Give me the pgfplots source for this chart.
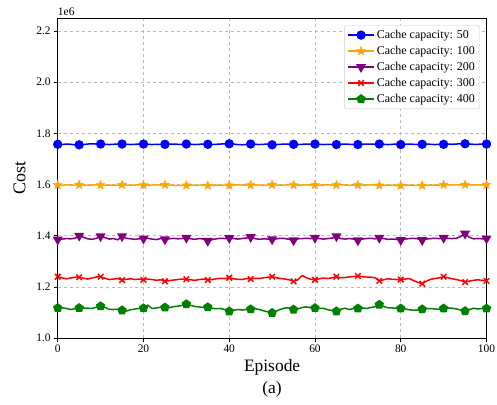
\documentclass[border=0pt]{standalone}
\usepackage{pgfplots}
\pgfplotsset{compat=1.18}
\usepackage{pgfplotstable}
\usepackage{fontspec}
\setmainfont{Liberation Serif}
\pgfdeclareplotmark{fstar}{%
  \pgfpathmoveto{\pgfqpointpolar{90}{\pgfplotmarksize}}%
  \pgfpathlineto{\pgfqpointpolar{126}{0.42\pgfplotmarksize}}%
  \pgfpathlineto{\pgfqpointpolar{162}{\pgfplotmarksize}}%
  \pgfpathlineto{\pgfqpointpolar{198}{0.42\pgfplotmarksize}}%
  \pgfpathlineto{\pgfqpointpolar{234}{\pgfplotmarksize}}%
  \pgfpathlineto{\pgfqpointpolar{270}{0.42\pgfplotmarksize}}%
  \pgfpathlineto{\pgfqpointpolar{306}{\pgfplotmarksize}}%
  \pgfpathlineto{\pgfqpointpolar{342}{0.42\pgfplotmarksize}}%
  \pgfpathlineto{\pgfqpointpolar{18}{\pgfplotmarksize}}%
  \pgfpathlineto{\pgfqpointpolar{54}{0.42\pgfplotmarksize}}%
  \pgfpathclose\pgfusepathqfillstroke}
\definecolor{mplorange}{RGB}{255,165,0}
\definecolor{mplpurple}{RGB}{128,0,128}
\definecolor{mplgreen}{RGB}{0,128,0}
\pgfplotstableread{
ep b o p r g
0 1.757 1.598 1.385 1.240 1.118
1 1.756 1.597 1.387 1.236 1.119
2 1.758 1.599 1.389 1.232 1.116
3 1.757 1.598 1.388 1.235 1.112
4 1.755 1.597 1.390 1.238 1.115
5 1.755 1.599 1.400 1.238 1.118
6 1.756 1.598 1.394 1.234 1.118
7 1.758 1.597 1.388 1.231 1.117
8 1.759 1.598 1.386 1.235 1.116
9 1.758 1.599 1.390 1.239 1.121
10 1.758 1.598 1.398 1.240 1.125
11 1.757 1.597 1.393 1.234 1.120
12 1.756 1.598 1.387 1.229 1.113
13 1.757 1.598 1.389 1.231 1.112
14 1.758 1.597 1.384 1.233 1.113
15 1.758 1.599 1.398 1.227 1.109
16 1.757 1.598 1.390 1.230 1.106
17 1.756 1.597 1.388 1.232 1.111
18 1.757 1.598 1.386 1.229 1.114
19 1.758 1.599 1.388 1.231 1.116
20 1.758 1.598 1.389 1.228 1.117
21 1.757 1.597 1.390 1.231 1.129
22 1.756 1.598 1.387 1.229 1.116
23 1.757 1.599 1.385 1.226 1.118
24 1.757 1.598 1.389 1.228 1.121
25 1.757 1.599 1.386 1.222 1.120
26 1.758 1.598 1.388 1.225 1.119
27 1.758 1.597 1.390 1.227 1.123
28 1.757 1.597 1.388 1.229 1.125
29 1.756 1.597 1.389 1.231 1.128
30 1.758 1.597 1.392 1.230 1.133
31 1.757 1.598 1.388 1.228 1.128
32 1.756 1.597 1.386 1.226 1.124
33 1.757 1.597 1.389 1.229 1.122
34 1.758 1.598 1.387 1.231 1.120
35 1.757 1.596 1.380 1.227 1.121
36 1.756 1.597 1.385 1.229 1.117
37 1.757 1.598 1.388 1.232 1.115
38 1.758 1.598 1.390 1.234 1.116
39 1.759 1.597 1.389 1.233 1.112
40 1.759 1.597 1.391 1.236 1.105
41 1.758 1.598 1.389 1.232 1.109
42 1.756 1.599 1.387 1.230 1.112
43 1.755 1.598 1.389 1.229 1.110
44 1.756 1.598 1.391 1.233 1.112
45 1.758 1.598 1.395 1.231 1.113
46 1.757 1.599 1.389 1.234 1.115
47 1.756 1.598 1.386 1.233 1.112
48 1.757 1.597 1.388 1.236 1.107
49 1.758 1.598 1.387 1.238 1.103
50 1.755 1.599 1.386 1.240 1.099
51 1.756 1.598 1.388 1.236 1.106
52 1.757 1.597 1.390 1.233 1.113
53 1.758 1.598 1.389 1.231 1.118
54 1.757 1.599 1.386 1.228 1.119
55 1.757 1.598 1.382 1.222 1.112
56 1.756 1.597 1.388 1.228 1.114
57 1.757 1.598 1.389 1.245 1.120
58 1.758 1.599 1.390 1.236 1.122
59 1.757 1.598 1.389 1.230 1.119
60 1.758 1.598 1.392 1.228 1.118
61 1.757 1.597 1.389 1.232 1.116
62 1.756 1.598 1.387 1.235 1.117
63 1.757 1.599 1.389 1.233 1.111
64 1.756 1.598 1.391 1.236 1.108
65 1.756 1.598 1.398 1.240 1.105
66 1.757 1.599 1.389 1.236 1.113
67 1.758 1.598 1.387 1.237 1.117
68 1.757 1.597 1.389 1.239 1.112
69 1.756 1.598 1.387 1.241 1.116
70 1.756 1.598 1.382 1.243 1.116
71 1.757 1.597 1.387 1.240 1.118
72 1.758 1.598 1.389 1.239 1.116
73 1.758 1.599 1.390 1.238 1.120
74 1.757 1.598 1.388 1.236 1.123
75 1.758 1.597 1.392 1.224 1.131
76 1.757 1.597 1.389 1.228 1.124
77 1.756 1.598 1.386 1.232 1.119
78 1.757 1.597 1.387 1.230 1.118
79 1.758 1.596 1.386 1.229 1.117
80 1.756 1.596 1.383 1.229 1.116
81 1.757 1.597 1.387 1.231 1.114
82 1.758 1.598 1.389 1.233 1.111
83 1.757 1.597 1.390 1.225 1.109
84 1.756 1.597 1.388 1.218 1.110
85 1.757 1.596 1.383 1.213 1.113
86 1.758 1.597 1.387 1.223 1.115
87 1.757 1.598 1.389 1.230 1.116
88 1.756 1.597 1.390 1.233 1.114
89 1.757 1.598 1.389 1.236 1.113
90 1.757 1.599 1.392 1.240 1.116
91 1.758 1.599 1.390 1.236 1.118
92 1.757 1.598 1.389 1.232 1.117
93 1.758 1.599 1.390 1.229 1.114
94 1.759 1.598 1.397 1.225 1.110
95 1.759 1.599 1.408 1.219 1.106
96 1.758 1.598 1.394 1.223 1.112
97 1.757 1.599 1.388 1.226 1.117
98 1.757 1.598 1.389 1.228 1.114
99 1.758 1.599 1.388 1.226 1.116
100 1.758 1.599 1.389 1.224 1.116
}\data
\begin{document}
\begin{tikzpicture}
\begin{axis}[
  width=428.5bp, height=320bp, scale only axis,
  xmin=0, xmax=100, ymin=1.0, ymax=2.25,
  xtick={0,20,40,60,80,100},
  ytick={1.0,1.2,1.4,1.6,1.8,2.0,2.2},
  yticklabel style={/pgf/number format/.cd, fixed, fixed zerofill, precision=1},
  /pgf/number format/assume math mode=true,
  ticklabel style={font=\fontsize{11.5}{13}\selectfont},
  tick align=outside, tick pos=left,
  major tick length=3.5bp,
  every tick/.style={black, line width=0.6pt},
  axis line style={line width=0.8pt},
  grid=major, grid style={dashed, gray!55, line width=0.6pt},
  xlabel={Episode},
  xlabel style={at={(axis description cs:0.5,0)}, anchor=base, yshift=-33bp,
    font=\fontsize{17.5}{20}\selectfont},
  ylabel={Cost},
  ylabel style={font=\fontsize{18}{20}\selectfont, yshift=4bp},
  legend style={at={(1,1)}, xshift=-6.5bp, yshift=-7bp, anchor=north east,
    draw=gray!40, rounded corners=2.5bp,
    font=\fontsize{12}{14}\selectfont, row sep=2.2bp, inner xsep=3bp, inner ysep=3bp},
  legend cell align=left,
  legend image code/.code={
    \draw[mark repeat=2,mark phase=2] plot coordinates {(0bp,0bp) (13bp,0bp) (26bp,0bp)};},
  mark repeat=5, mark phase=1,
  every axis plot/.append style={line width=1.5bp},
]
\addplot[blue, mark=*, mark size=3.9bp, mark options={solid}] table[x=ep,y=b]{\data};
\addlegendentry{Cache capacity: 50}
\addplot[mplorange, mark=fstar, mark size=4.6bp, mark options={solid, line width=0.5bp}] table[x=ep,y=o]{\data};
\addlegendentry{Cache capacity: 100}
\addplot[mplpurple, mark=triangle*, mark size=4.4bp, mark options={solid, rotate=180}] table[x=ep,y=p]{\data};
\addlegendentry{Cache capacity: 200}
\addplot[red, mark=x, mark size=3.9bp, mark options={solid}] table[x=ep,y=r]{\data};
\addlegendentry{Cache capacity: 300}
\addplot[mplgreen, mark=pentagon*, mark size=4bp, mark options={solid}] table[x=ep,y=g]{\data};
\addlegendentry{Cache capacity: 400}
\end{axis}
\node[anchor=base west, inner sep=0pt, font=\fontsize{11.5}{13}\selectfont, yshift=3bp] at (current axis.north west) {1e6};
\node[anchor=base, inner sep=0pt, font=\fontsize{17.5}{20}\selectfont, yshift=-55bp] at (current axis.south) {(a)};
\pgfresetboundingbox
\path (current axis.south west) ++(-57.7bp,-66bp) rectangle ++(496.7bp,404bp);
\end{tikzpicture}
\end{document}
